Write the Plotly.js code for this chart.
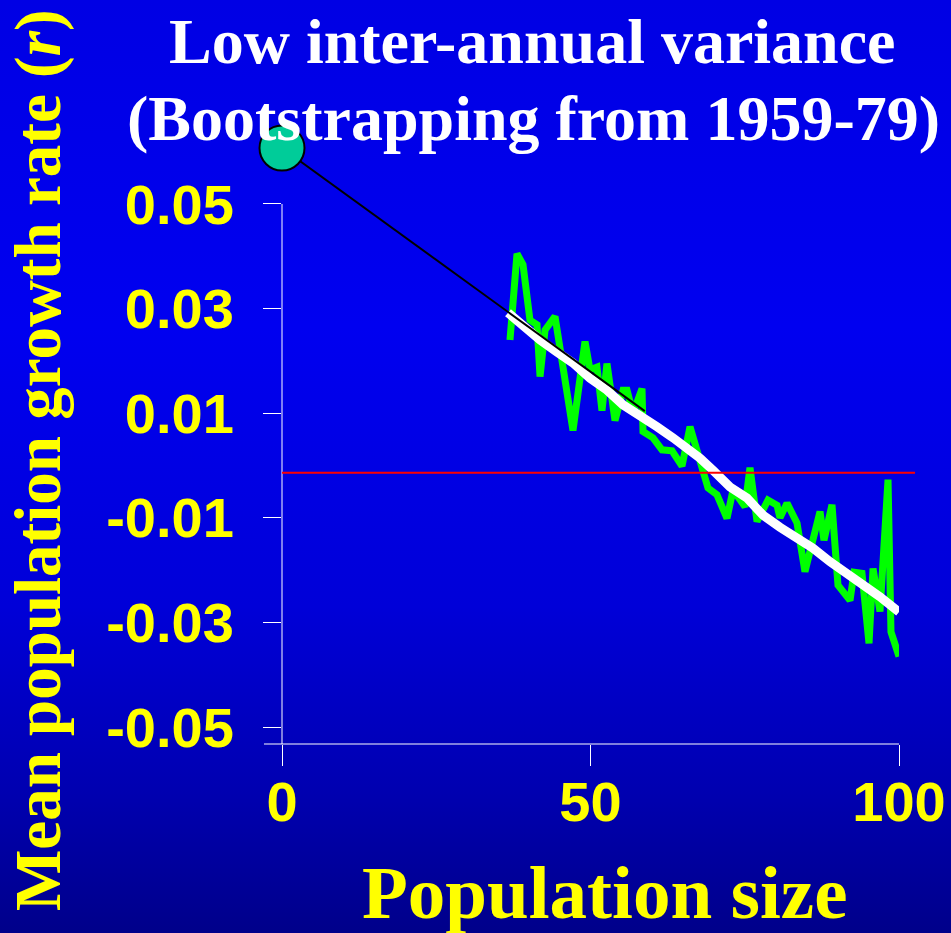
<!DOCTYPE html>
<html>
<head>
<meta charset="utf-8">
<script src="https://cdn.plot.ly/plotly-3.0.1.min.js"></script>
<style>
  html, body { margin: 0; padding: 0; }
  #chart {
    width: 951px; height: 933px;
    background: linear-gradient(to bottom, #0000E4 0%, #0000F0 35%, #0000D8 65%, #0000B0 85%, #00008A 100%);
  }
</style>
</head>
<body>
<div id="chart"></div>
<script>
// Simulated (bootstrapped) mean growth rate - green
const greenN = [36.95,38.09,39.06,40.19,41.33,41.82,42.63,44.25,47.16,49.11,49.92,51.05,51.86,52.67,53.97,55.27,55.92,56.89,58.35,58.51,60.13,61.59,63.21,64.83,66.13,69.04,70.50,72.12,73.10,75.04,75.85,76.99,78.77,80.23,80.71,81.85,83.47,84.76,87.20,87.84,89.14,90.11,92.06,92.71,94.00,95.14,95.79,96.92,98.22,98.70,100.0];
const greenR = [0.0240,0.0405,0.0384,0.0278,0.0269,0.0170,0.0259,0.0285,0.0067,0.0237,0.0183,0.0188,0.0105,0.0195,0.0086,0.0144,0.0144,0.0100,0.0147,0.0065,0.0053,0.0030,0.0028,-0.0001,0.0074,-0.0043,-0.0056,-0.0101,-0.0047,-0.0079,-0.0004,-0.0107,-0.0066,-0.0076,-0.0100,-0.0072,-0.0110,-0.0203,-0.0088,-0.0143,-0.0075,-0.0229,-0.0258,-0.0204,-0.0206,-0.0340,-0.0197,-0.0279,-0.0027,-0.0318,-0.0365];

// Smoothed mean - white
const whiteN = [36.63,39.06,41.82,44.57,47.16,49.92,52.67,55.27,58.02,60.78,63.37,66.13,67.75,69.85,72.61,75.36,77.96,80.71,82.33,86.06,88.82,91.57,94.17,96.92,100.0];
const whiteR = [0.0292,0.0265,0.0240,0.0217,0.0196,0.0167,0.0144,0.0116,0.0097,0.0074,0.0053,0.0030,0.0014,-0.0009,-0.0041,-0.0062,-0.0095,-0.0118,-0.0129,-0.0158,-0.0184,-0.0206,-0.0225,-0.0251,-0.0280];

// Extrapolated linear fit - black, and intercept point
const fitN = [0, 58.8];
const fitR = [0.0607, 0.0104];
const interceptN = [0];
const interceptR = [0.0607];

// Reference line (r = 0)
const zeroLineR = -0.0014;

// Ticks
const yTickVals = [0.05, 0.03, 0.01, -0.01, -0.03, -0.05];
const yTickText = ["0.05", "0.03", "0.01", "-0.01", "-0.03", "-0.05"];
const xTickVals = [0, 50, 100];
const xTickText = ["0", "50", "100"];

const titleLine1 = "Low inter-annual variance";
const titleLine2 = "(Bootstrapping from 1959-79)";
const xTitle = "Population size";
const yTitle = "Mean population growth rate (<i>r</i>)";

const serif = "Liberation Serif, Times New Roman, serif";
const sans = "Liberation Sans, Arial, sans-serif";

const traces = [
  { x: greenN, y: greenR, mode: "lines", line: { color: "#00FF00", width: 7 }, hoverinfo: "skip" },
  { x: whiteN, y: whiteR, mode: "lines", line: { color: "#FFFFFF", width: 9 }, hoverinfo: "skip" },
  { x: fitN, y: fitR, mode: "lines", line: { color: "#000000", width: 2 }, hoverinfo: "skip" },
  { x: interceptN, y: interceptR, mode: "markers", cliponaxis: false,
    marker: { size: 45, color: "#00CC99", line: { color: "#000000", width: 2 } }, hoverinfo: "skip" }
];

const layout = {
  width: 951, height: 933,
  margin: { l: 282, r: 52, t: 120, b: 189 },
  paper_bgcolor: "rgba(0,0,0,0)",
  plot_bgcolor: "rgba(0,0,0,0)",
  showlegend: false,
  xaxis: {
    range: [0, 100],
    showgrid: false, zeroline: false, showline: false,
    tickmode: "array", tickvals: xTickVals, ticktext: xTickText,
    ticks: "outside", ticklen: 21, tickwidth: 1, tickcolor: "#FFFFFF",
    ticklabelstandoff: -12,
    tickfont: { family: sans, size: 56, color: "#FFFF00", weight: 700 }
  },
  yaxis: {
    range: [-0.05325, 0.06606],
    showgrid: false, zeroline: false, showline: false,
    tickmode: "array", tickvals: yTickVals, ticktext: yTickText,
    ticks: "outside", ticklen: 18, tickwidth: 1, tickcolor: "#FFFFFF",
    ticklabelstandoff: 18,
    tickfont: { family: sans, size: 56, color: "#FFFF00", weight: 700 }
  },
  shapes: [
    // x axis line (extends a bit left of the y axis)
    { type: "line", xref: "paper", yref: "paper", x0: -0.0292, x1: 1, y0: 0, y1: 0,
      line: { color: "#FFFFFF", width: 1 } },
    // y axis line from bottom up to the 0.05 tick
    { type: "line", xref: "paper", yref: "y", x0: 0, x1: 0, y0: -0.05325, y1: 0.05,
      line: { color: "#FFFFFF", width: 1 } },
    // red reference line
    { type: "line", xref: "paper", yref: "y", x0: 0, x1: 1.026, y0: zeroLineR, y1: zeroLineR,
      line: { color: "#FF0000", width: 2 }, layer: "above" }
  ],
  annotations: [
    { text: titleLine1, xref: "paper", yref: "paper", x: 0.4068, y: 1.1266,
      xanchor: "center", yanchor: "middle", showarrow: false,
      font: { family: serif, size: 64, color: "#FFFFFF", weight: 700 } },
    { text: titleLine2, xref: "paper", yref: "paper", x: 0.4084, y: 1.0032,
      xanchor: "center", yanchor: "middle", showarrow: false,
      font: { family: serif, size: 64, color: "#FFFFFF", weight: 700 } },
    { text: xTitle, xref: "paper", yref: "paper", x: 0.5219, y: -0.2372,
      xanchor: "center", yanchor: "middle", showarrow: false,
      font: { family: serif, size: 75, color: "#FFFF00", weight: 700 } },
    { text: yTitle, xref: "paper", yref: "paper", x: -0.3955, y: 0.4551, textangle: -90,
      xanchor: "center", yanchor: "middle", showarrow: false,
      font: { family: serif, size: 65, color: "#FFFF00", weight: 700 } }
  ]
};

Plotly.newPlot("chart", traces, layout, { displayModeBar: false, staticPlot: true });
</script>
</body>
</html>
